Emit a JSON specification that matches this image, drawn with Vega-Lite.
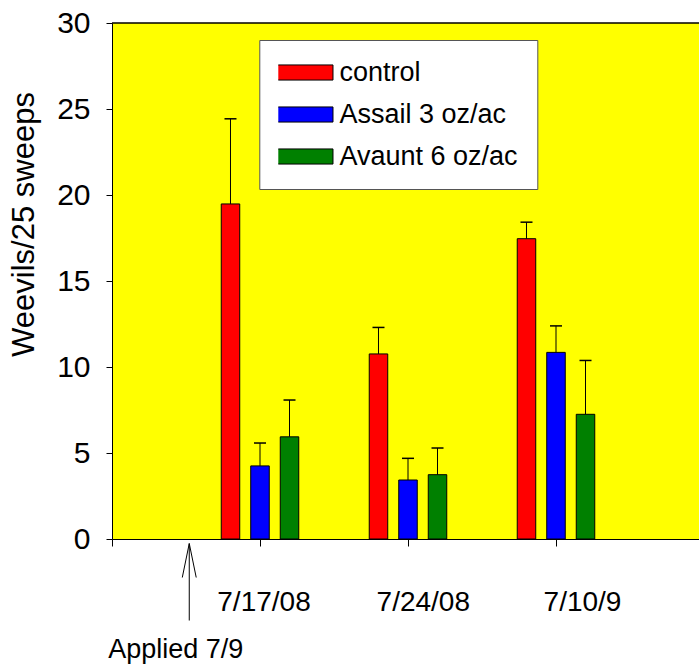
{
  "$schema": "https://vega.github.io/schema/vega-lite/v6.json",
  "width": 587,
  "height": 516,
  "autosize": {"type": "none"},
  "padding": {"left": 112, "top": 23, "right": 0, "bottom": 126},
  "background": "white",
  "config": {"font": "Liberation Sans", "view": {"fill": "#ffff00", "stroke": null}},
  "data": {"values": [
    {"date": "7/17/08", "treatment": "control", "mean": 19.48, "upper": 24.43},
    {"date": "7/17/08", "treatment": "Assail 3 oz/ac", "mean": 4.25, "upper": 5.58},
    {"date": "7/17/08", "treatment": "Avaunt 6 oz/ac", "mean": 5.94, "upper": 8.08},
    {"date": "7/24/08", "treatment": "control", "mean": 10.76, "upper": 12.30},
    {"date": "7/24/08", "treatment": "Assail 3 oz/ac", "mean": 3.43, "upper": 4.69},
    {"date": "7/24/08", "treatment": "Avaunt 6 oz/ac", "mean": 3.74, "upper": 5.29},
    {"date": "7/10/9", "treatment": "control", "mean": 17.46, "upper": 18.42},
    {"date": "7/10/9", "treatment": "Assail 3 oz/ac", "mean": 10.85, "upper": 12.39},
    {"date": "7/10/9", "treatment": "Avaunt 6 oz/ac", "mean": 7.25, "upper": 10.38}
  ]},
  "layer": [
    {
      "mark": {"type": "bar", "stroke": "black", "strokeWidth": 1, "opacity": 1},
      "encoding": {
        "x": {
          "field": "date", "type": "nominal",
          "scale": {"domain": ["start", "7/17/08", "7/24/08", "7/10/9"], "range": [0, 592], "paddingInner": 0, "paddingOuter": 0},
          "axis": {
            "title": null, "bandPosition": 0, "tickSize": 7, "tickColor": "black", "domainColor": "black",
            "labelFontSize": 28, "labelColor": "black", "labelBaseline": "alphabetic", "labelPadding": 64,
            "labelAngle": 0, "labelExpr": "datum.value == 'start' ? '' : datum.value",
            "labelOffset": {"condition": [{"test": "datum.value == '7/24/08'", "value": -58.7}, {"test": "datum.value == '7/10/9'", "value": -47.5}], "value": -70},
            "labelFlush": false, "labelOverlap": false
          }
        },
        "xOffset": {
          "field": "treatment", "type": "nominal",
          "scale": {"domain": ["control", "Assail 3 oz/ac", "Avaunt 6 oz/ac"], "range": [-44.25, 44.25], "paddingInner": 0.373, "paddingOuter": 0.186}
        },
        "y": {
          "field": "mean", "type": "quantitative",
          "scale": {"domain": [0, 30], "nice": false},
          "axis": {
            "title": "Weevils/25 sweeps", "values": [0, 5, 10, 15, 20, 25, 30], "grid": false,
            "tickSize": 6, "tickColor": "black", "domainColor": "black",
            "labelFontSize": 30, "labelPadding": 16, "labelColor": "black", "labelFlush": false, "labelOverlap": false,
            "titleFontSize": 31, "titleFontWeight": "normal", "titleColor": "black",
            "titleX": -79, "titleY": 201, "titleAngle": -90, "titleBaseline": "alphabetic", "titleAlign": "center"
          }
        },
        "color": {
          "field": "treatment", "type": "nominal",
          "scale": {"domain": ["control", "Assail 3 oz/ac", "Avaunt 6 oz/ac"], "range": ["#ff0000", "#0000ff", "#008000"]},
          "legend": {
            "title": null, "orient": "none", "legendX": 147.3, "legendY": 17, "direction": "vertical",
            "fillColor": "white", "strokeColor": "#555555", "padding": 19, "clipHeight": 27, "rowPadding": 14,
            "symbolType": "M-1,-0.24H1V0.24H-1Z", "symbolSize": 3969, "symbolOffset": -8.8,
            "symbolStrokeColor": "black", "symbolStrokeWidth": 1, "symbolOpacity": 1,
            "labelOffset": 6, "labelFontSize": 27, "labelColor": "black", "labelLimit": 0
          }
        }
      }
    },
    {
      "mark": {"type": "rule", "color": "black", "strokeWidth": 1},
      "encoding": {
        "x": {"field": "date", "type": "nominal"},
        "xOffset": {"field": "treatment", "type": "nominal"},
        "y": {"field": "mean", "type": "quantitative"},
        "y2": {"field": "upper"}
      }
    },
    {
      "mark": {"type": "tick", "orient": "horizontal", "color": "black", "size": 12, "thickness": 1.5, "opacity": 1},
      "encoding": {
        "x": {"field": "date", "type": "nominal"},
        "xOffset": {"field": "treatment", "type": "nominal"},
        "y": {"field": "upper", "type": "quantitative"}
      }
    },
    {
      "data": {"values": [{"note": "Applied 7/9"}]},
      "layer": [
        {
          "mark": {"type": "rule", "color": "black", "strokeWidth": 1.5},
          "encoding": {"y": {"datum": 30, "type": "quantitative"}}
        },
        {
          "mark": {"type": "rule", "color": "black", "strokeWidth": 1},
          "encoding": {
            "x": {"datum": "start", "type": "nominal", "bandPosition": 0.522},
            "y": {"datum": -0.27, "type": "quantitative"},
            "y2": {"datum": -4.74}
          }
        },
        {
          "mark": {"type": "point", "shape": "M-0.41,1L0,-1L0.41,1", "filled": false, "stroke": "black", "strokeWidth": 1, "size": 1156, "opacity": 1},
          "encoding": {
            "x": {"datum": "start", "type": "nominal", "bandPosition": 0.522},
            "y": {"datum": -1.25, "type": "quantitative"}
          }
        },
        {
          "mark": {"type": "text", "fontSize": 27, "align": "center", "baseline": "alphabetic", "color": "black"},
          "encoding": {
            "x": {"datum": "start", "type": "nominal", "bandPosition": 0.431},
            "y": {"datum": -6.92, "type": "quantitative"},
            "text": {"field": "note", "type": "nominal"}
          }
        }
      ]
    }
  ]
}
